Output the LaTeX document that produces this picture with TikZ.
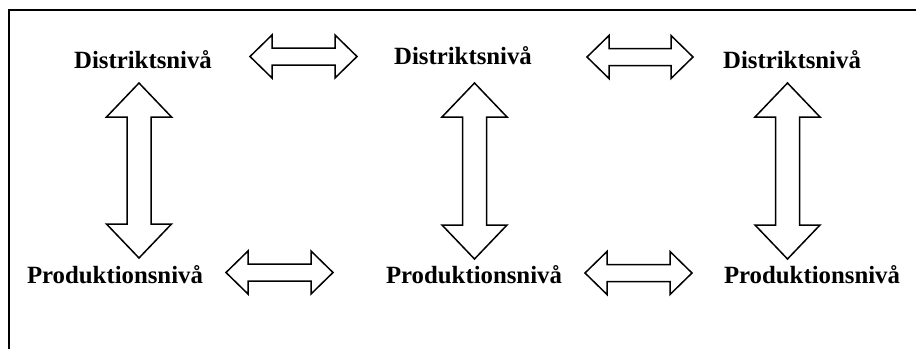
\documentclass[tikz,border=0pt]{standalone}
\usepackage{fontspec}
\setmainfont{Liberation Serif}

% horizontal block arrow with heads at both ends: #1 left tip x, #2 right tip x, #3 centre y
\newcommand{\hdblarrow}[3]{%
  \draw[blockarrow] (#1,#3) -- ++(22,-21.5) -- ++(0,13) -- (#2-22,#3-8.5) -- ++(0,-13)
    -- (#2,#3) -- ++(-22,21.5) -- ++(0,-13) -- (#1+22,#3+8.5) -- ++(0,13) -- cycle;}
% vertical block arrow with heads at both ends: #1 centre x, #2 top tip y, #3 bottom tip y
\newcommand{\vdblarrow}[3]{%
  \draw[blockarrow] (#1,#2) -- ++(32.5,34) -- ++(-20.5,0) -- (#1+12,#3-34) -- ++(20.5,0)
    -- (#1,#3) -- ++(-32.5,-34) -- ++(20.5,0) -- (#1-12,#2+34) -- ++(-20.5,0) -- cycle;}

\begin{document}
\begin{tikzpicture}[x=0.5pt,y=-0.5pt,
  level/.style={anchor=base,inner sep=0pt,font=\bfseries\fontsize{12.4}{14}\selectfont},
  blockarrow/.style={draw=black,line width=0.75pt,fill=white,line join=miter},
  frameline/.style={draw=black,line width=0.85pt}]
\useasboundingbox (0,0) rectangle (916,349);

% open frame: left and top edges only
\draw[frameline] (9,349) -- (9,10) -- (916,10);

% level labels
\node[level] (d1) at (143,68) {Distriktsnivå};
\node[level] (d2) at (463,64) {Distriktsnivå};
\node[level] (d3) at (792,68) {Distriktsnivå};
\node[level] (p1) at (115,283) {Produktionsnivå};
\node[level] (p2) at (474,283) {Produktionsnivå};
\node[level] (p3) at (812,283) {Produktionsnivå};

% links between districts
\hdblarrow{250}{357}{56.5}
\hdblarrow{587}{693}{57}
% links between production units
\hdblarrow{226}{333}{272.5}
\hdblarrow{585}{692}{273}
% links between district and production level
\vdblarrow{139}{83}{258}
\vdblarrow{474.5}{83}{259}
\vdblarrow{787.5}{83}{259}
\end{tikzpicture}
\end{document}
